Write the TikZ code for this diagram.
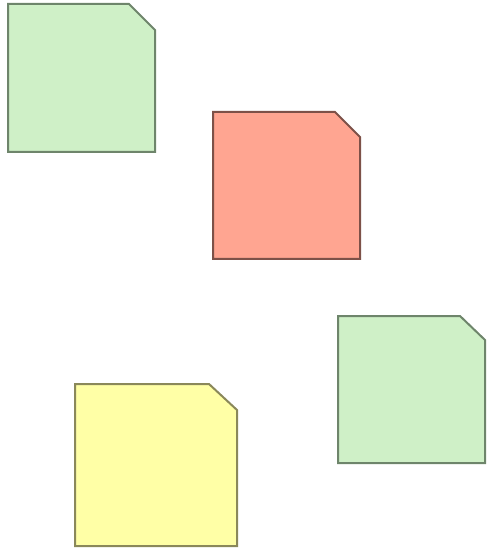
\documentclass[tikz,border=0pt]{standalone}
\definecolor{notegreen}{HTML}{CFF0C7}
\definecolor{notegreenline}{HTML}{6E856B}
\definecolor{notered}{HTML}{FFA591}
\definecolor{noteredline}{HTML}{7D5148}
\definecolor{noteyellow}{HTML}{FFFFA6}
\definecolor{noteyellowline}{HTML}{8A885A}
\begin{document}
\begin{tikzpicture}[x=0.5pt, y=-0.5pt, line width=1pt, line join=miter]
	% 1. bounding box (pixel grid, y downward)
	\useasboundingbox (0,0) rectangle (487,550);
	
	% 2. green note, top left
	\draw[draw=notegreenline, fill=notegreen] (8,4) -- (129,4) -- (155,30) -- (155,152) -- (8,152) -- cycle;
	
	% 3. red note, middle
	\draw[draw=noteredline, fill=notered] (213,112) -- (335,112) -- (360,137) -- (360,259) -- (213,259) -- cycle;
	
	% 4. green note, right
	\draw[draw=notegreenline, fill=notegreen] (338,316) -- (460,316) -- (485,340) -- (485,463) -- (338,463) -- cycle;
	
	% 5. yellow note, bottom left
	\draw[draw=noteyellowline, fill=noteyellow] (75,384) -- (209,384) -- (237,410) -- (237,546) -- (75,546) -- cycle;
\end{tikzpicture}
\end{document}
